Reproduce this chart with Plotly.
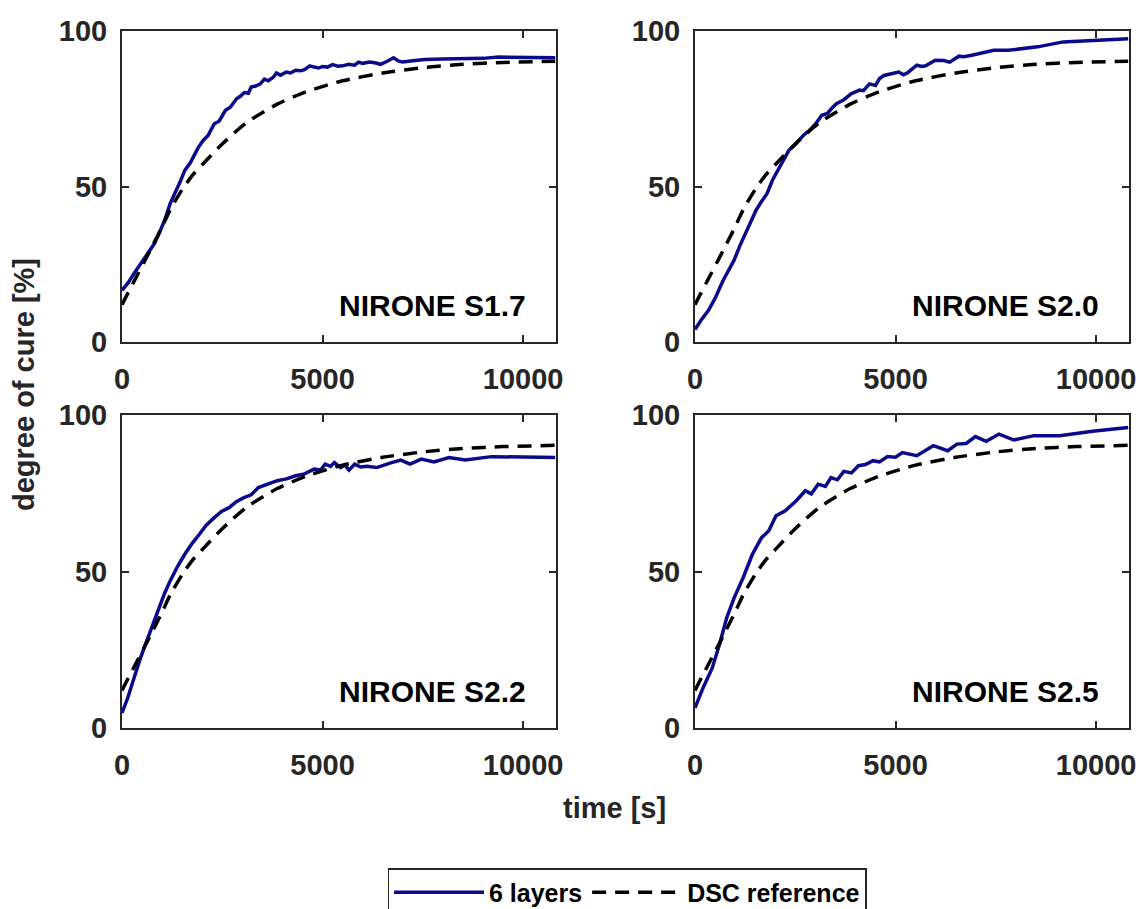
import plotly.graph_objects as go

# DSC reference curve (same material reference in every panel)
dsc_t = [0, 150, 300, 645, 1000, 1200, 1500, 1750, 2000, 2485, 3100, 3870,
         4600, 5500, 6500, 7500, 8500, 9500, 10800]
dsc_y = [12, 15.8, 19.5, 28, 37, 42.5, 49, 53.5, 57, 63.5, 70.5, 76.5,
         80.5, 84, 86.5, 88.2, 89.3, 89.9, 90.3]

# Measured degree of cure, 6 layers
s17_t = [0, 150, 300, 450, 645, 800, 920, 1060, 1200, 1330, 1450, 1565, 1700,
         1800, 1900, 2025, 2150, 2300, 2420, 2580, 2700, 2855, 2950, 3050, 3150,
         3220, 3330, 3450, 3550, 3650, 3775, 3850, 3950, 4100, 4200, 4330, 4450,
         4550, 4680, 4790, 4900, 5000, 5120, 5250, 5380, 5500, 5650, 5800, 5900,
         6000, 6170, 6300, 6445, 6600, 6770, 6900, 7000, 7250, 7550, 8000, 8470,
         9000, 9390, 10000, 10800]
s17_y = [16.6, 19, 22, 25, 28.4, 31.5, 34.8, 39, 44.5, 48, 51.5, 55.2, 57.5,
         60, 62.5, 64.8, 66.5, 70.2, 71, 74.5, 75.5, 78.2, 79, 80.2, 80,
         82, 82.3, 83, 84.5, 84, 85.2, 86.5, 85.8, 86.8, 86.5, 87.4, 87.2,
         87.6, 88.8, 88.4, 88.1, 88.6, 88.4, 89.2, 88.7, 88.8, 89.3, 89, 90,
         89.6, 90, 89.8, 89.3, 90.2, 91.4, 90.3, 90, 90.4, 90.8, 91, 91.1,
         91.2, 91.6, 91.5, 91.4]

s20_t = [0, 150, 337, 500, 700, 840, 975, 1120, 1250, 1400, 1520, 1650, 1795,
         1930, 2070, 2200, 2340, 2500, 2705, 2850, 3000, 3160, 3300, 3400, 3525,
         3700, 3890, 4000, 4100, 4200, 4350, 4500, 4600, 4710, 4900, 5075, 5200,
         5300, 5530, 5650, 5750, 5990, 6200, 6350, 6580, 6700, 6900, 7200, 7450,
         7810, 8540, 9180, 10090, 10800]
s20_y = [4, 7, 10.2, 14, 19.8, 23, 26.3, 31, 34.8, 39, 42.3, 45, 47.7,
         52, 55.2, 58.5, 61.6, 63.5, 66.5, 68, 70, 72.9, 73.5, 75, 76.6,
         77.8, 79.8, 80.4, 81, 80.8, 83, 82.5, 84.7, 85.7, 86.3, 86.8, 85.9,
         86.6, 89, 88.6, 88.8, 90.6, 90.5, 90, 91.9, 91.7, 92.2, 93, 93.8,
         93.8, 94.9, 96.5, 97, 97.5]

s22_t = [0, 140, 276, 450, 645, 780, 920, 1060, 1200, 1380, 1565, 1750, 1930,
         2100, 2300, 2480, 2670, 2850, 3040, 3220, 3400, 3600, 3870, 4100, 4330,
         4550, 4790, 4950, 5065, 5200, 5295, 5450, 5560, 5660, 5800, 5950, 6100,
         6350, 6550, 6720, 6950, 7180, 7460, 7780, 8150, 8560, 9210, 10800]
s22_y = [4.8, 9.5, 15, 22, 28.8, 33.5, 38.4, 43, 47, 51.5, 55.5, 59, 61.9,
         64.8, 67.2, 69.2, 70.4, 72.3, 73.6, 74.5, 76.8, 77.8, 79, 79.6, 80.6,
         81.2, 82.7, 82.4, 84.3, 83.6, 84.8, 83.2, 84, 82.4, 84.3, 83.4, 83.6,
         83.2, 84.2, 84.8, 85.6, 84.3, 85.9, 85, 86.4, 85.6, 86.7, 86.4]

s25_t = [0, 200, 430, 610, 790, 975, 1200, 1430, 1660, 1840, 2020, 2250, 2525,
         2750, 2900, 3070, 3250, 3390, 3550, 3710, 3900, 4075, 4250, 4440, 4600,
         4800, 5000, 5170, 5530, 5940, 6300, 6530, 6760, 6990, 7260, 7580, 7950,
         8450, 9090, 9910, 10800]
s25_y = [6.4, 12.8, 19.2, 26.7, 35.2, 41.6, 48, 55.5, 60.8, 63, 67.8, 69.4, 72.6,
         75.8, 74.8, 77.9, 77.2, 80, 79.3, 82, 81.5, 83.8, 84.2, 85.4, 85,
         86.7, 86.5, 88, 87, 90.2, 88.6, 90.7, 90.9, 93.1, 91.6, 93.9, 92,
         93.4, 93.4, 94.8, 96]

panels = [
    ("NIRONE S1.7", s17_t, s17_y),
    ("NIRONE S2.0", s20_t, s20_y),
    ("NIRONE S2.2", s22_t, s22_y),
    ("NIRONE S2.5", s25_t, s25_y),
]

W, H = 1143, 909
x_domains = [(122 / W, 556 / W), (695 / W, 1129 / W)]
y_domains = [((H - 342) / H, (H - 31) / H), ((H - 728) / H, (H - 415) / H)]

BLUE = "#0a0a8c"
AXC = "#262626"
FONT = "Liberation Sans, Arial, sans-serif"

fig = go.Figure()

for i, (name, t, y) in enumerate(panels):
    row, col = divmod(i, 2)
    n = i + 1
    xa = "x" if n == 1 else f"x{n}"
    ya = "y" if n == 1 else f"y{n}"
    fig.add_trace(go.Scatter(
        x=t, y=y, mode="lines", name="6 layers", xaxis=xa, yaxis=ya,
        line=dict(color=BLUE, width=3.5), showlegend=(n == 1),
    ))
    fig.add_trace(go.Scatter(
        x=dsc_t, y=dsc_y, mode="lines", name="DSC reference", xaxis=xa, yaxis=ya,
        line=dict(color="black", width=3.5, dash="14px,9px", shape="spline",
                  smoothing=0.6),
        showlegend=(n == 1),
    ))
    axis_common = dict(
        showline=True, linecolor=AXC, linewidth=2, mirror="ticks",
        ticks="inside", ticklen=7, tickwidth=1.5, tickcolor=AXC,
        showgrid=False, zeroline=False, automargin=False,
        tickfont=dict(family=FONT, size=29, color=AXC, weight="bold"),
        fixedrange=True,
    )
    fig.layout[f"xaxis{'' if n == 1 else n}"] = dict(
        axis_common, domain=x_domains[col], anchor=ya, range=[0, 10820],
        tickvals=[0, 5000, 10000], ticktext=["0", "5000", "10000"],
        ticklabelstandoff=10,
    )
    fig.layout[f"yaxis{'' if n == 1 else n}"] = dict(
        axis_common, domain=y_domains[row], anchor=xa, range=[0, 100],
        tickvals=[0, 50, 100], ticktext=["0", "50", "100"],
        ticklabelstandoff=7,
    )
    fig.add_annotation(
        text=name, xref=f"{xa} domain", yref=f"{ya} domain",
        x=0.935, y=0.116, xanchor="right", yanchor="middle", showarrow=False,
        font=dict(family=FONT, size=30, color="black", weight="bold"),
    )

fig.add_annotation(
    text="degree of cure [%]", xref="paper", yref="paper",
    x=24 / W, y=(H - 385) / H, textangle=-90, showarrow=False,
    xanchor="center", yanchor="middle",
    font=dict(family=FONT, size=29, color=AXC, weight="bold"),
)
fig.add_annotation(
    text="time [s]", xref="paper", yref="paper",
    x=614 / W, y=(H - 808) / H, showarrow=False,
    xanchor="center", yanchor="middle",
    font=dict(family=FONT, size=29, color=AXC, weight="bold"),
)

fig.update_layout(
    width=W, height=H,
    margin=dict(l=0, r=0, t=0, b=0, autoexpand=False),
    paper_bgcolor="white", plot_bgcolor="white",
    showlegend=True,
    legend=dict(
        orientation="h", x=627 / W, y=(H - 868) / H, xanchor="center", yanchor="top",
        bordercolor=AXC, borderwidth=1.5, bgcolor="white",
        font=dict(family=FONT, size=25, color="black", weight="bold"),
        itemwidth=90, traceorder="normal",
    ),
)

fig.write_html("out.html", post_script="document.body.style.margin='0';")
